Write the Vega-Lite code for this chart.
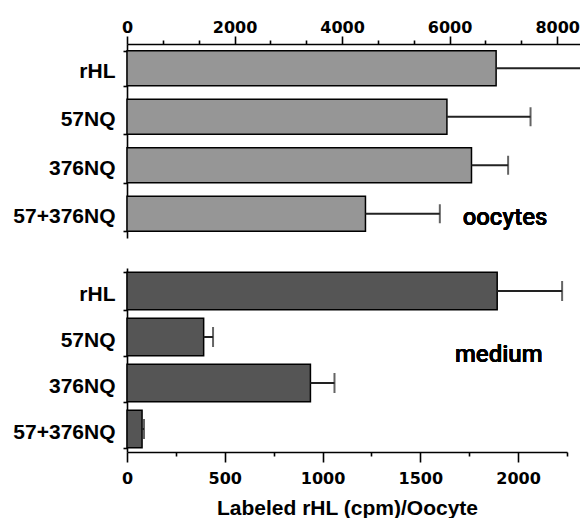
{
  "$schema": "https://vega.github.io/schema/vega-lite/v6.json",
  "padding": {"top": 19, "left": 12, "right": 0, "bottom": 0},
  "background": "white",
  "spacing": 30,
  "bounds": "flush",
  "config": {
    "view": {"stroke": null},
    "axis": {
      "domainColor": "black", "tickColor": "black", "labelColor": "black", "titleColor": "black",
      "domainWidth": 1.6, "tickWidth": 1.6, "grid": false
    }
  },
  "datasets": {
    "oocytes": [
      {"construct": "rHL", "mean": 6865, "upper": 8600},
      {"construct": "57NQ", "mean": 5950, "upper": 7505},
      {"construct": "376NQ", "mean": 6407, "upper": 7088},
      {"construct": "57+376NQ", "mean": 4435, "upper": 5818}
    ],
    "medium": [
      {"construct": "rHL", "mean": 1893, "upper": 2225},
      {"construct": "57NQ", "mean": 392, "upper": 440},
      {"construct": "376NQ", "mean": 938, "upper": 1061},
      {"construct": "57+376NQ", "mean": 77, "upper": 87}
    ]
  },
  "vconcat": [
    {
      "width": 453,
      "height": 194,
      "data": {"name": "oocytes"},
      "resolve": {"axis": {"x": "independent"}},
      "layer": [
        {
          "mark": {"type": "bar", "fill": "#969696", "stroke": "black", "strokeWidth": 1.5},
          "encoding": {
            "y": {
              "field": "construct", "type": "nominal", "sort": null,
              "scale": {"domain": ["rHL", "57NQ", "376NQ", "57+376NQ"], "paddingInner": 0.28, "paddingOuter": 0.14},
              "axis": {
                "title": null, "tickBand": "extent", "tickSize": 4, "labelPadding": 8,
                "labelFont": "Liberation Sans", "labelFontWeight": "bold", "labelFontSize": 21, "labelOffset": 3
              }
            },
            "x": {
              "field": "mean", "type": "quantitative",
              "scale": {"domain": [0, 8425], "nice": false, "zero": true},
              "axis": {
                "orient": "top", "title": null, "format": "d",
                "values": [0, 2000, 4000, 6000, 8000],
                "tickSize": 8,
                "labelPadding": 1, "labelFont": "DejaVu Sans", "labelFontWeight": "bold", "labelFontSize": 16,
                "labelFlush": false, "labelOverlap": false
              }
            }
          }
        },
        {
          "mark": {"type": "rule", "color": "#222", "strokeWidth": 2, "clip": true},
          "encoding": {
            "y": {"field": "construct", "type": "nominal", "sort": null},
            "x": {
              "field": "mean", "type": "quantitative",
              "axis": {
                "orient": "top", "title": null, "labels": false, "domain": false, "tickSize": 4,
                "values": [666.67, 1333.33, 2666.67, 3333.33, 4666.67, 5333.33, 6666.67, 7333.33]
              }
            },
            "x2": {"field": "upper"}
          }
        },
        {
          "mark": {"type": "tick", "color": "#222", "thickness": 2, "size": 19, "clip": true},
          "encoding": {
            "y": {"field": "construct", "type": "nominal", "sort": null},
            "x": {"field": "upper", "type": "quantitative", "axis": null}
          }
        },
        {
          "mark": {"type": "text", "text": "oocytes", "font": "Roboto", "fontWeight": 500, "fontSize": 24, "align": "center", "baseline": "middle", "dy": 4, "color": "black"},
          "encoding": {
            "x": {"datum": 7030, "type": "quantitative", "axis": null},
            "y": {"datum": "57+376NQ", "type": "nominal"}
          }
        }
      ]
    },
    {
      "width": 440,
      "height": 184,
      "data": {"name": "medium"},
      "resolve": {"axis": {"x": "independent"}},
      "layer": [
        {
          "mark": {"type": "bar", "fill": "#555555", "stroke": "black", "strokeWidth": 1.5},
          "encoding": {
            "y": {
              "field": "construct", "type": "nominal", "sort": null,
              "scale": {"domain": ["rHL", "57NQ", "376NQ", "57+376NQ"], "paddingInner": 0.19, "paddingOuter": 0.095},
              "axis": {
                "title": null, "tickBand": "extent", "tickSize": 4, "labelPadding": 8,
                "labelFont": "Liberation Sans", "labelFontWeight": "bold", "labelFontSize": 21, "labelOffset": 3
              }
            },
            "x": {
              "field": "mean", "type": "quantitative",
              "scale": {"domain": [0, 2250], "nice": false, "zero": true},
              "axis": {
                "orient": "bottom", "title": "Labeled rHL (cpm)/Oocyte", "format": "d",
                "values": [0, 500, 1000, 1500, 2000],
                "tickSize": 10,
                "labelPadding": 8, "labelFont": "DejaVu Sans", "labelFontWeight": "bold", "labelFontSize": 16,
                "labelFlush": false, "labelOverlap": false,
                "titleFont": "Liberation Sans", "titleFontWeight": "bold", "titleFontSize": 21, "titlePadding": 11
              }
            }
          }
        },
        {
          "mark": {"type": "rule", "color": "#222", "strokeWidth": 2, "clip": true},
          "encoding": {
            "y": {"field": "construct", "type": "nominal", "sort": null},
            "x": {
              "field": "mean", "type": "quantitative",
              "axis": {
                "orient": "bottom", "title": null, "labels": false, "domain": false, "tickSize": 4,
                "values": [250, 750, 1250, 1750, 2250]
              }
            },
            "x2": {"field": "upper"}
          }
        },
        {
          "mark": {"type": "tick", "color": "#222", "thickness": 2, "size": 20, "clip": true},
          "encoding": {
            "y": {"field": "construct", "type": "nominal", "sort": null},
            "x": {"field": "upper", "type": "quantitative", "axis": null}
          }
        },
        {
          "mark": {"type": "text", "text": "medium", "font": "Roboto", "fontWeight": 500, "fontSize": 24, "align": "center", "baseline": "middle", "dy": 18, "color": "black"},
          "encoding": {
            "x": {"datum": 1901, "type": "quantitative", "axis": null},
            "y": {"datum": "57NQ", "type": "nominal"}
          }
        }
      ]
    }
  ]
}
